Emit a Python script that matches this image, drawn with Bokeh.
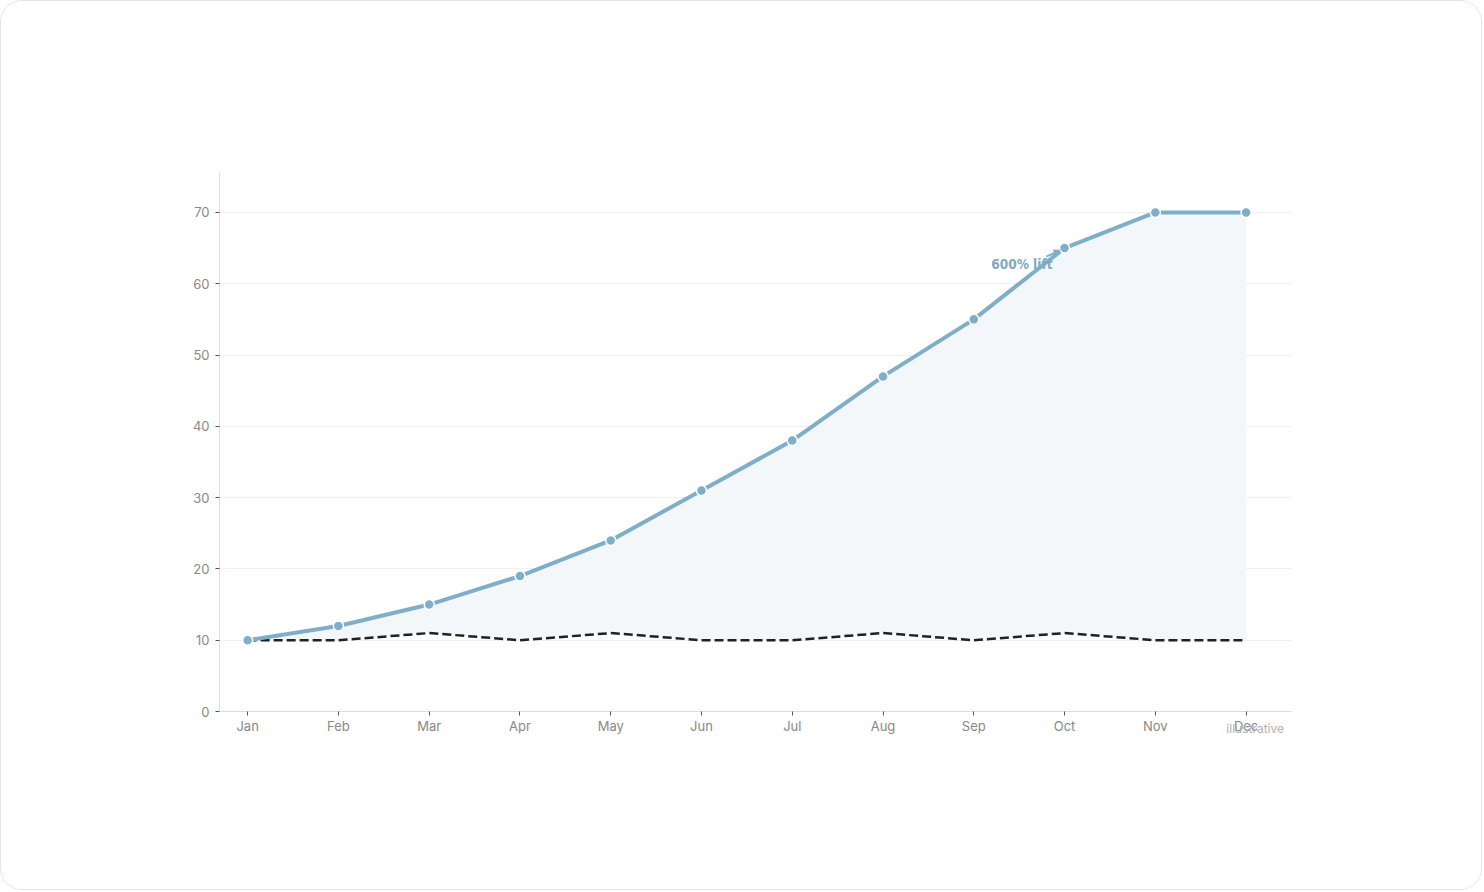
from bokeh.plotting import figure
from bokeh.models import Range1d, FixedTicker, Label, Arrow, NormalHead, ColumnDataSource
from bokeh.embed import file_html
from bokeh.resources import INLINE

months = ["Jan", "Feb", "Mar", "Apr", "May", "Jun", "Jul", "Aug", "Sep", "Oct", "Nov", "Dec"]
lift = [10, 12, 15, 19, 24, 31, 38, 47, 55, 65, 70, 70]
baseline = [10, 10, 11, 10, 11, 10, 10, 11, 10, 11, 10, 10]
y_ticks = [0, 10, 20, 30, 40, 50, 60, 70]
annotation_text = "600% lift"
note_text = "illustrative"

xs = list(range(len(months)))
src = ColumnDataSource(dict(x=xs, lift=lift, base=baseline))

LINE = "#7fafc8"
FONT = "Inter"

p = figure(width=1482, height=890, output_backend="svg", toolbar_location=None,
           x_range=Range1d(-0.31, 11.5), y_range=Range1d(0, 75.6),
           min_border_left=218, min_border_right=192, min_border_top=171, min_border_bottom=180)
p.styles = {"border": "1px solid #e4e4ea", "border-radius": "22px", "overflow": "hidden"}
p.outline_line_color = None
p.background_fill_color = "white"
p.border_fill_color = "white"

p.varea(x="x", y1="base", y2="lift", source=src, fill_color="#f3f7fa")
p.line(x="x", y="base", source=src, line_color="#1f2125", line_width=2.5, line_dash="9 4")
p.line(x="x", y="lift", source=src, line_color=LINE, line_width=4)
p.scatter(x="x", y="lift", source=src, size=10, fill_color=LINE, line_color="white", line_width=1.5)

# annotation
ox, oy = xs[9], lift[9]
p.add_layout(Label(x=ox - 0.47, y=oy - 2.3, text=annotation_text, text_font="DejaVu Sans Condensed",
                   text_font_style="bold", text_font_size="13.5px", text_color="#7fa9c4",
                   text_align="center", text_baseline="middle"))
p.add_layout(Arrow(x_start=ox - 0.2, y_start=oy - 1.2, x_end=ox - 0.05, y_end=oy - 0.3,
                   line_color=LINE, line_width=2,
                   end=NormalHead(size=6, fill_color=LINE, line_color=LINE)))
p.add_layout(Label(x=xs[-1] + 0.1, y=-2.4, text=note_text,
                   text_font=FONT, text_font_size="12px",
                   text_color="#b0b0b0", text_align="center", text_baseline="middle"), "below")

p.xaxis.ticker = FixedTicker(ticks=xs)
p.xaxis.major_label_overrides = {i: m for i, m in enumerate(months)}
p.yaxis.ticker = FixedTicker(ticks=y_ticks)
for ax in (p.xaxis, p.yaxis):
    ax.axis_line_color = "#dddddd"
    ax.major_tick_line_color = "#555555"
    ax.major_tick_in = 0
    ax.major_tick_out = 4
    ax.minor_tick_line_color = None
    ax.major_label_text_font = FONT
    ax.major_label_text_font_size = "13px"
    ax.major_label_text_color = "#888888"
p.xaxis.major_label_standoff = 2
p.yaxis.major_label_standoff = 6
p.xgrid.grid_line_color = None
p.ygrid.grid_line_color = "#f0f0f0"

open("out.html", "w").write(file_html(p, INLINE))
